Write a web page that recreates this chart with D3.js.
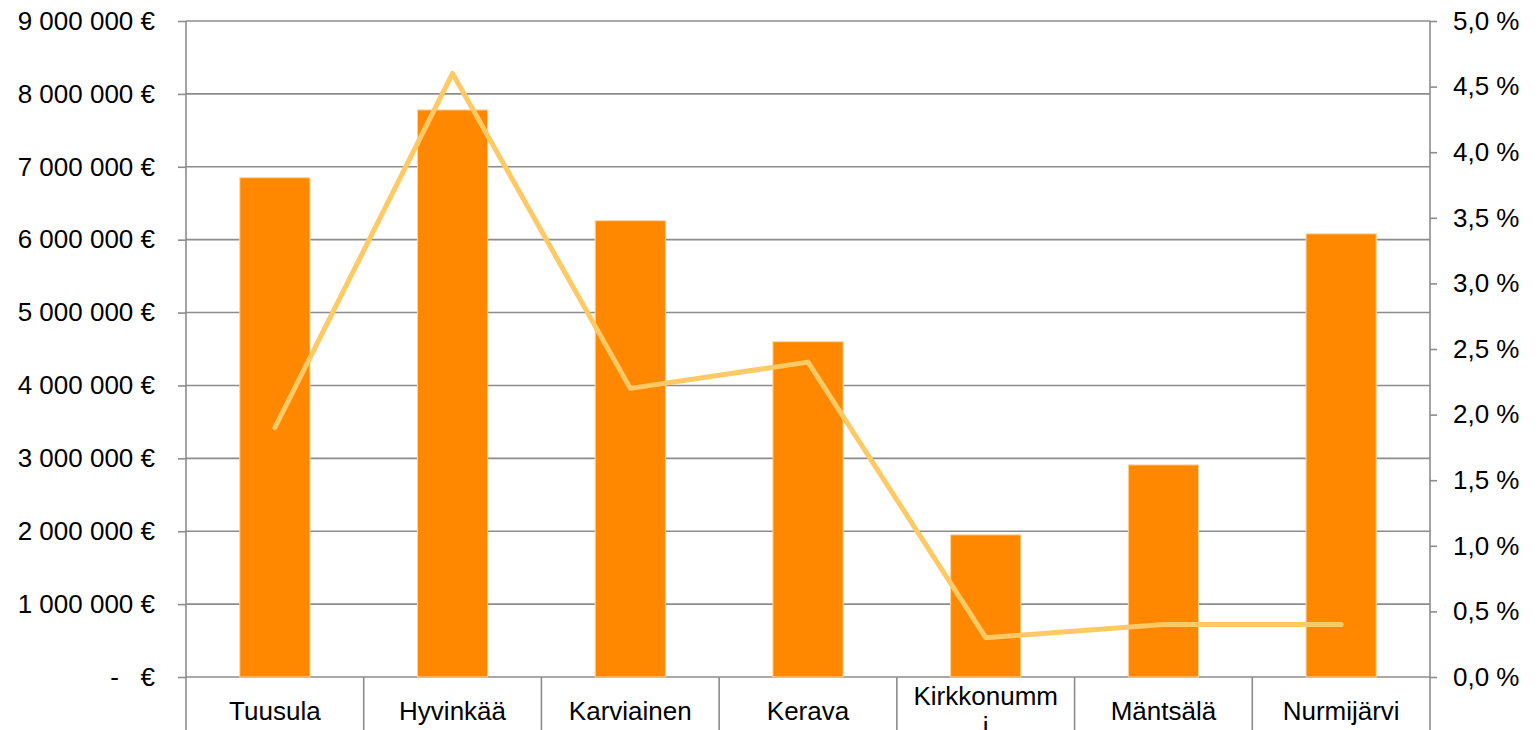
<!DOCTYPE html>
<html>
<head>
<meta charset="utf-8">
<script src="https://cdn.jsdelivr.net/npm/d3@7"></script>
<style>
  body { margin: 0; background: #fff; }
  svg { display: block; font-family: "Liberation Sans", Arial, sans-serif; }
  text { white-space: pre; }
</style>
</head>
<body>
<svg id="chart" width="1539" height="730"></svg>
<script>
// data
const categories = ['Tuusula', 'Hyvinkää', 'Karviainen', 'Kerava', 'Kirkkonummi', 'Mäntsälä', 'Nurmijärvi'];
const amounts = [6850000, 7780000, 6260000, 4600000, 1950000, 2910000, 6080000];
const shares = [0.019, 0.046, 0.022, 0.024, 0.003, 0.004, 0.004];
const leftTicks = [0, 1e6, 2e6, 3e6, 4e6, 5e6, 6e6, 7e6, 8e6, 9e6];
const rightTicks = [0, 0.005, 0.01, 0.015, 0.02, 0.025, 0.03, 0.035, 0.04, 0.045, 0.05];

const svg = d3.select('#chart');
const plotL = 186, plotR = 1430, plotT = 21, plotB = 677;
const gridColor = '#8c8c8c';

const x = d3.scaleBand().domain(categories).range([plotL, plotR]).padding(0);
const yL = d3.scaleLinear().domain([0, 9e6]).range([plotB, plotT]);
const yR = d3.scaleLinear().domain([0, 0.05]).range([plotB, plotT]);

const fmtEur = d => d === 0 ? '-   €' : d3.format(',')(d).replace(/,/g, ' ') + ' €';
const fmtPct = d => (d * 100).toFixed(1).replace('.', ',') + ' %';

// horizontal gridlines
svg.append('g').selectAll('line').data(leftTicks).enter().append('line')
  .attr('x1', plotL).attr('x2', plotR)
  .attr('y1', d => yL(d)).attr('y2', d => yL(d))
  .attr('stroke', gridColor).attr('stroke-width', 1.6);

// left axis
const axL = svg.append('g').attr('transform', `translate(${plotL},0)`)
  .call(d3.axisLeft(yL).tickValues(leftTicks).tickFormat(fmtEur).tickSize(8).tickPadding(23).tickSizeOuter(0));
axL.select('.domain').remove();
axL.selectAll('line').attr('stroke', gridColor).attr('stroke-width', 1.6);
axL.selectAll('text').attr('font-size', 26).attr('fill', '#000').attr('font-family', '"Liberation Sans", Arial, sans-serif');

// right axis
const axR = svg.append('g').attr('transform', `translate(${plotR},0)`)
  .call(d3.axisRight(yR).tickValues(rightTicks).tickFormat(fmtPct).tickSize(7).tickPadding(16).tickSizeOuter(0));
axR.select('.domain').remove();
axR.selectAll('line').attr('stroke', gridColor).attr('stroke-width', 1.6);
axR.selectAll('text').attr('font-size', 26).attr('fill', '#000').attr('font-family', '"Liberation Sans", Arial, sans-serif');

// vertical axis lines and category separators
const seps = categories.map(c => x(c)).concat([plotR]);
svg.append('g').selectAll('line').data(seps).enter().append('line')
  .attr('x1', d => d).attr('x2', d => d)
  .attr('y1', (d, i) => (i === 0 || i === seps.length - 1) ? plotT : plotB)
  .attr('y2', 740)
  .attr('stroke', gridColor).attr('stroke-width', 1.6);

// bars
const barW = x.bandwidth() * 0.395;
svg.append('g').selectAll('rect').data(amounts).enter().append('rect')
  .attr('x', (d, i) => x(categories[i]) + (x.bandwidth() - barW) / 2)
  .attr('y', d => yL(d))
  .attr('width', barW)
  .attr('height', d => plotB - yL(d))
  .attr('fill', '#ff8800')
  .attr('stroke', '#ffd49c').attr('stroke-width', 1);

// line on right axis
const line = d3.line()
  .x((d, i) => x(categories[i]) + x.bandwidth() / 2)
  .y(d => yR(d));
svg.append('path').datum(shares)
  .attr('d', line)
  .attr('fill', 'none')
  .attr('stroke', '#ffc965')
  .attr('stroke-width', 5)
  .attr('stroke-linejoin', 'round')
  .attr('stroke-linecap', 'round');

// category labels, wrapped by character when too wide
const maxW = 147;
const labels = svg.append('g');
categories.forEach(c => {
  const cx = x(c) + x.bandwidth() / 2;
  const t = labels.append('text')
    .attr('x', cx).attr('text-anchor', 'middle')
    .attr('font-size', 26).attr('fill', '#000');
  const lines = [];
  let cur = '';
  const probe = t.append('tspan');
  for (const ch of c) {
    probe.text(cur + ch);
    if (probe.node().getComputedTextLength() > maxW && cur) {
      lines.push(cur);
      cur = ch;
    } else {
      cur += ch;
    }
  }
  lines.push(cur);
  probe.remove();
  const lh = 30;
  const base = 720 - (lines.length - 1) * lh / 2;
  lines.forEach((l, i) => {
    t.append('tspan').attr('x', cx).attr('y', base + i * lh).text(l);
  });
});
</script>
</body>
</html>
